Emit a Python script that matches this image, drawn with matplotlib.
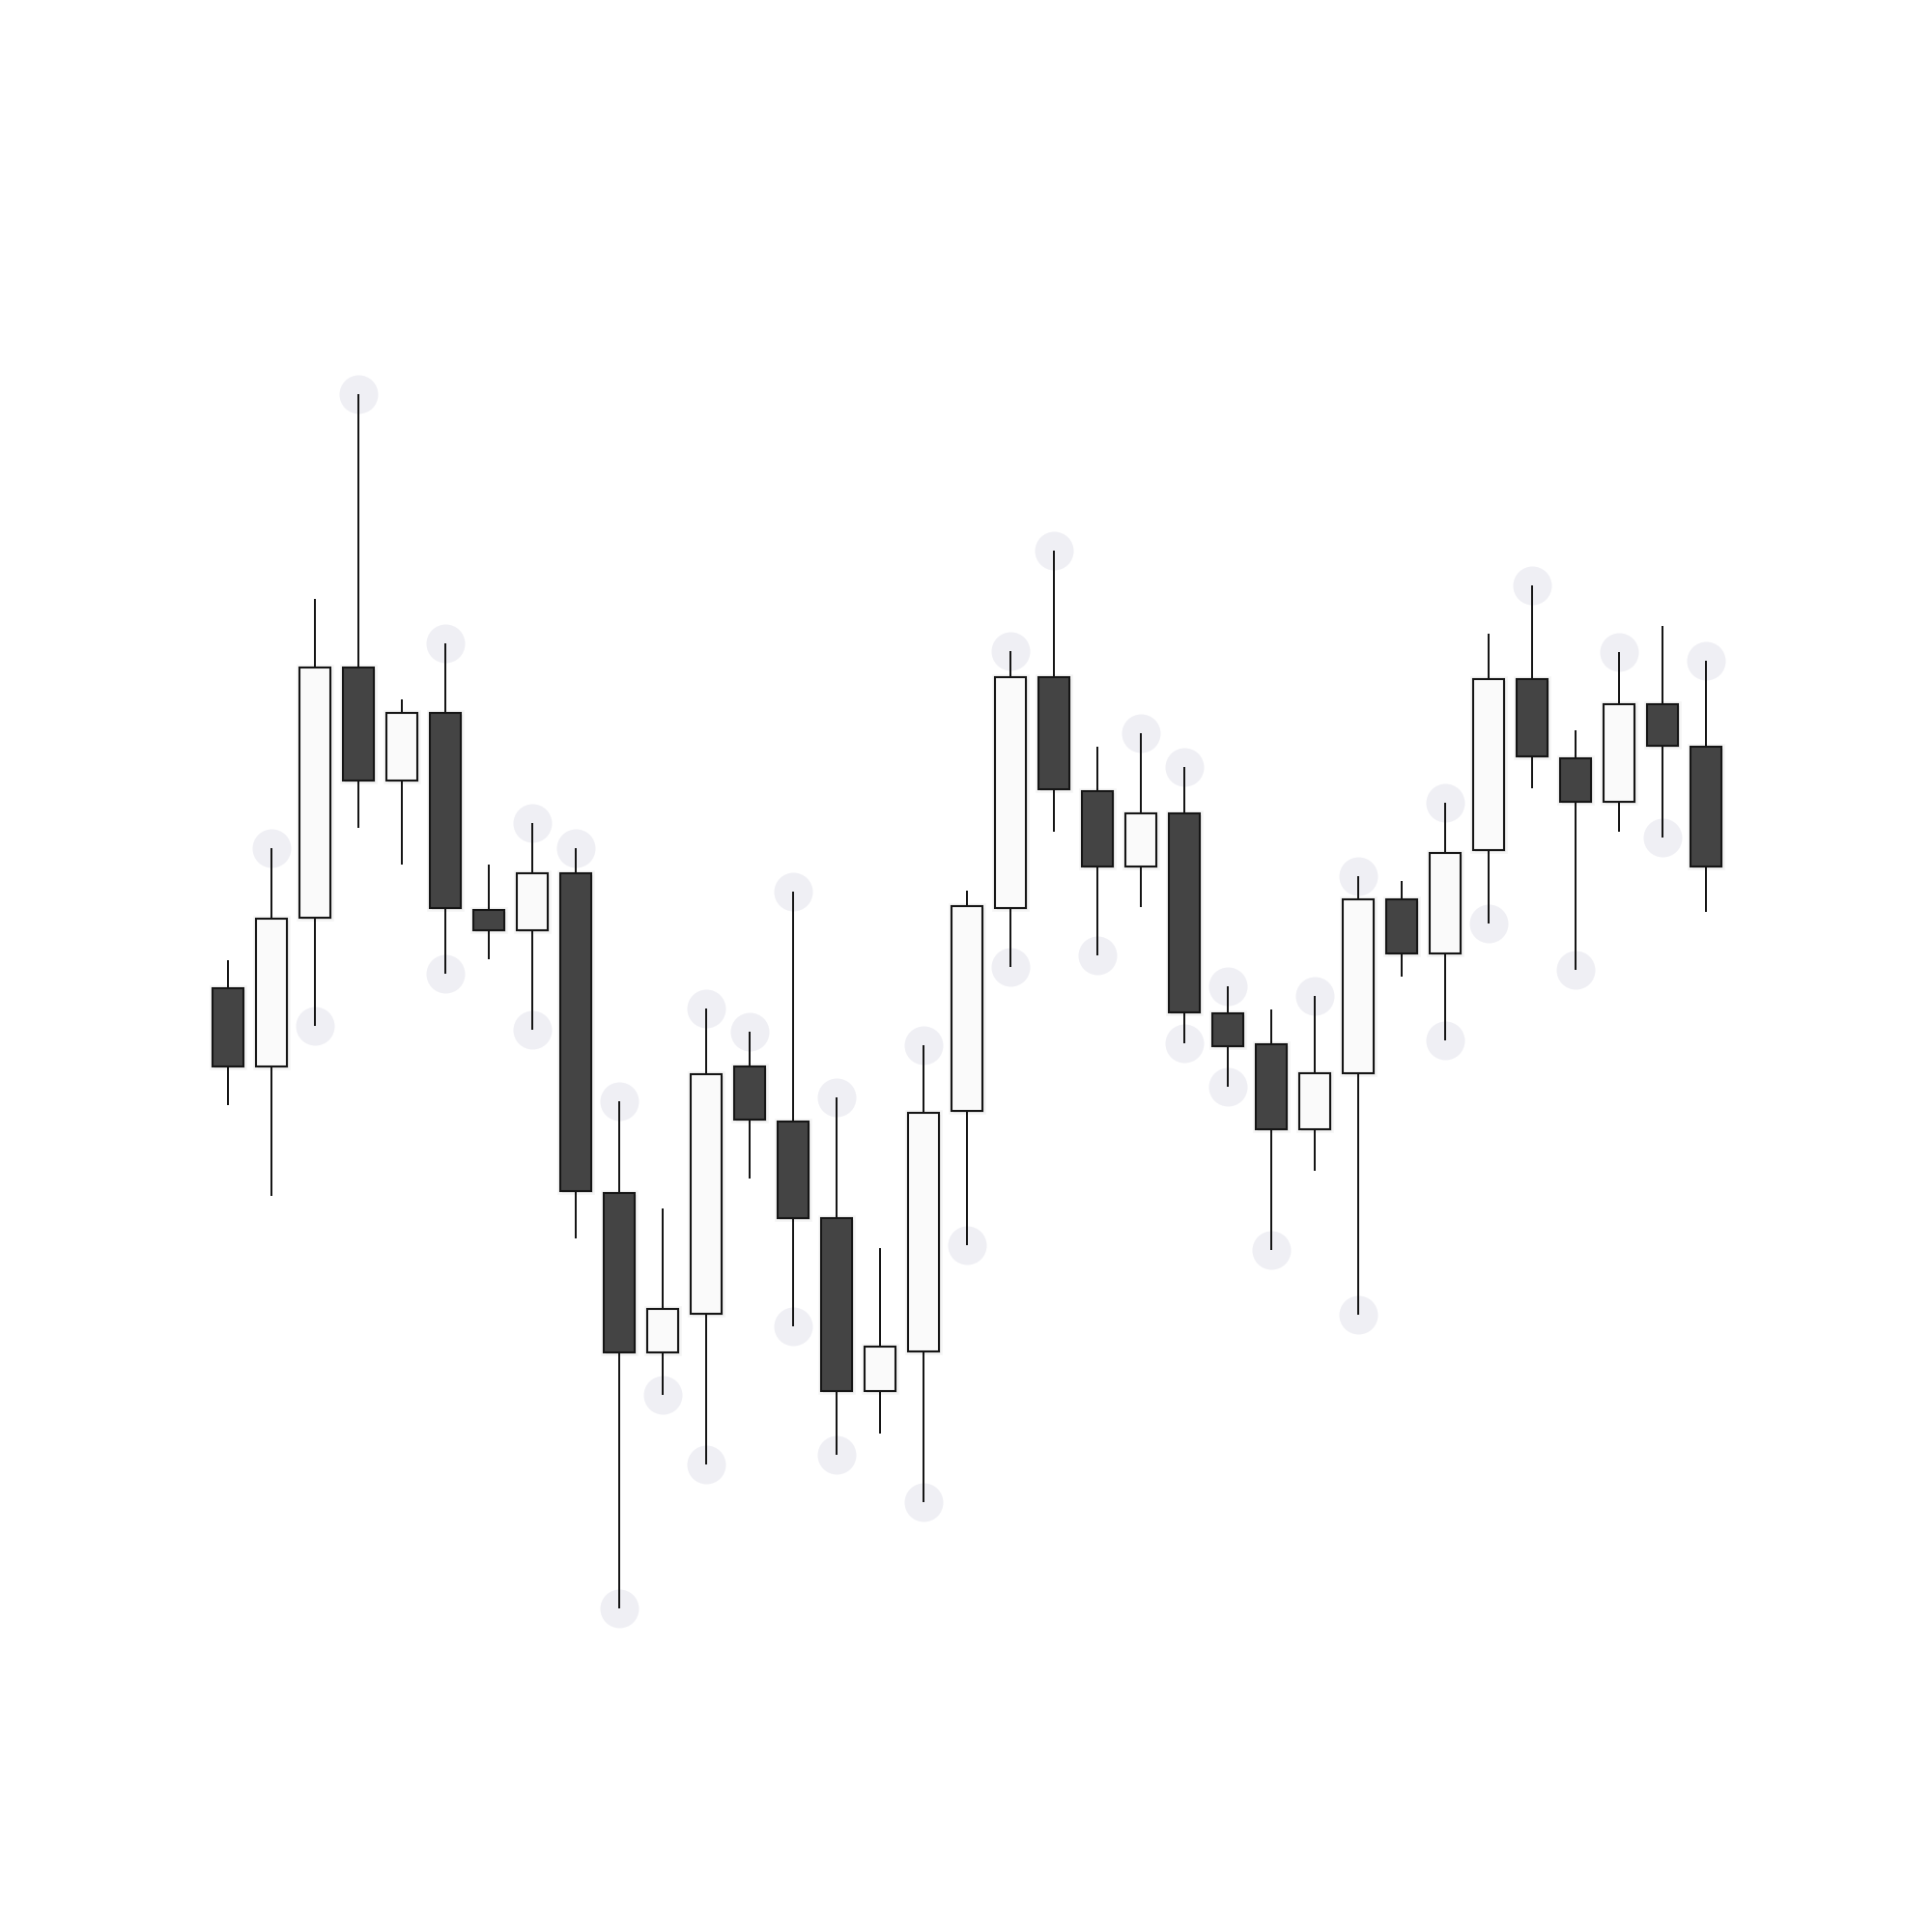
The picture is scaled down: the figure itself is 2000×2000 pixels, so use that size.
import matplotlib
matplotlib.use("Agg")
import matplotlib.pyplot as plt
import matplotlib.patheffects as pe
import numpy as np

# ---- data (price units) ----
opens  = [97.7, 89.6, 105.0, 130.9, 119.2, 126.2, 105.8, 103.7, 109.6, 76.5,
          60.0, 64.0, 89.6, 83.9, 73.9, 56.0, 60.1, 85.0, 106.0, 129.9,
          118.1, 110.3, 115.8, 95.1, 91.9, 83.1, 88.9, 106.9, 101.3, 112.0,
          129.7, 121.5, 117.0, 127.1, 122.7]
closes = [89.6, 104.9, 130.9, 119.2, 126.2, 106.0, 103.7, 109.6, 76.7, 60.0,
          64.5, 88.8, 84.1, 73.9, 56.0, 60.6, 84.8, 106.2, 129.9, 118.3,
          110.3, 115.8, 95.2, 91.7, 83.1, 88.9, 106.9, 101.3, 111.7, 129.7,
          121.7, 117.0, 127.1, 122.8, 110.3]
highs  = [100.6, 112.2, 138.0, 159.2, 127.6, 133.4, 110.5, 114.8, 112.2, 86.0,
          74.9, 95.6, 93.2, 107.7, 86.4, 70.8, 91.8, 107.8, 132.6, 143.0,
          122.7, 124.1, 120.6, 97.9, 95.5, 96.9, 109.3, 108.8, 116.9, 134.4,
          139.4, 124.4, 132.5, 135.2, 131.6]
lows   = [85.6, 76.2, 93.8, 114.3, 110.5, 99.2, 100.7, 93.4, 71.8, 33.5,
          55.6, 48.4, 78.0, 62.7, 49.4, 51.6, 44.5, 71.1, 99.9, 113.9,
          101.1, 106.1, 92.0, 87.5, 70.6, 78.8, 63.9, 98.9, 92.3, 104.4,
          118.4, 99.6, 113.9, 113.3, 105.6]

# indices of marked swing highs / lows
marked_highs = [1, 3, 5, 7, 8, 9, 11, 12, 13, 14, 16, 18, 19, 21, 22, 23, 25,
                26, 28, 30, 32, 34]
marked_lows = [2, 5, 7, 9, 10, 11, 13, 14, 16, 17, 18, 20, 22, 23, 24, 26, 28,
               29, 31, 33]

o = np.array(opens); c = np.array(closes)
h = np.array(highs); l = np.array(lows)
x = np.arange(len(o))

fig = plt.figure(figsize=(10, 10), dpi=200)
fig.patch.set_facecolor("white")
ax = fig.add_axes([0, 0, 1, 1])
ax.set_facecolor("white")
ax.axis("off")

xmin = -236 / 45
ax.set_xlim(xmin, xmin + 2000 / 45)
ax.set_ylim(0, 200)

circ = "#efeff4"
ax.scatter(x[marked_highs], h[marked_highs], s=207, color=circ, zorder=1,
           linewidths=0)
ax.scatter(x[marked_lows], l[marked_lows], s=207, color=circ, zorder=1,
           linewidths=0)

edge = "#161616"
ax.vlines(x, l, h, color=edge, linewidth=0.72, zorder=2)

up = c >= o
bottoms = np.minimum(o, c)
heights = np.abs(c - o)
colors = np.where(up, "#fafafa", "#444444")
bars = ax.bar(x, heights, width=0.71, bottom=bottoms, color=colors,
              edgecolor=edge, linewidth=0.75, zorder=3)
for b in bars:
    b.set_path_effects([
        pe.SimplePatchShadow(offset=(0.6, -0.8), shadow_rgbFace="#000000", alpha=0.05),
        pe.Stroke(linewidth=2.4, foreground="#000000", alpha=0.04),
        pe.Normal(),
    ])

fig.savefig("out.png", dpi=200, facecolor="white")
